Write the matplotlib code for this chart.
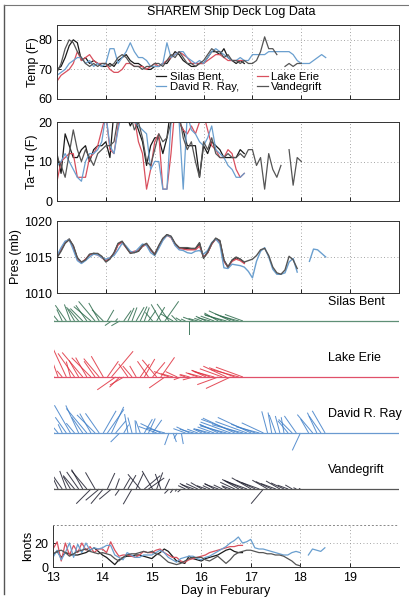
import numpy as np
import matplotlib
matplotlib.use("Agg")
import matplotlib.pyplot as plt
from matplotlib.lines import Line2D

plt.rcParams['font.family'] = ['Liberation Sans', 'DejaVu Sans']
plt.rcParams['font.size'] = 9

nan = np.nan

ships = ["Silas Bent", "Lake Erie", "David R. Ray", "Vandegrift"]

# deck log readings every 2 hours starting 13 Feb 00Z
START_DAY = 13.0
STEP_DAYS = 2.0 / 24.0

# air temperature (F)
temp_sb = [70, 71, 74, 78, 80, 79, 73, 74, 72, 73, 72, 71,
           71, 72, 71, 73, 74, 75, 73, 72, 72, 71, 70, 70,
           71, 71, 72, 72, 74, 76, 75, 73, 72, 71, 71, 72,
           72, 74, 76, 76, 75, 77, 74, 73, 72, 73, 72]
temp_le = [66, 68, 69, 70, 72, 76, 73, 74, 75, 73, 72, 72,
           72, 70, 69, 69, 70, 72, 72, 71, 71, 71, 70, 71,
           72, 71, 72, 73, 74, 75, 76, 75, 74, 72, 72, 72,
           72, 73, 74, 75, 75, 74, 73, 73, 73, 73, 73]
temp_dr = [68, 69, 70, 72, 73, 74, 74, 72, 73, 71, 72, 71,
           72, 77, 77, 72, 74, 76, 79, 76, 74, 74, 73, 71,
           71, 71, 72, 79, 74, 75, 76, 76, 74, 73, 72, 73,
           72, 74, 76, 77, 76, 75, 74, 73, 73, 74, 73, 73,
           75, 75, 75, 75, 76, 76, 76, 76, 76, 76, 75, 73,
           72, 72, 72, 73, 74, 75, 74]
temp_vg = [69, 72, 77, 80, 79, 76, 74, 72, 71, 72, 71, 72,
           72, 71, 72, 74, 75, 74, 72, 71, 71, 70, 71, 71,
           72, 72, 71, 73, 75, 74, 76, 74, 72, 72, 71, 72,
           73, 75, 77, 76, 76, 74, 75, 73, 73, 72, 73, 72,
           72, 73, 76, 81, 77, 77, 75, nan, 71, 72, 71, 72, 72]

# air temperature minus dew point (F)
tatd_sb = [12, 7, 17, 14, 11, 11, 13, 14, 10, 13, 14, 14,
           15, 11, 23, 25, 24, 22, 19, 21, 18, 15, 9, 14,
           16, 16, 12, 16, 24, 22, 20, 18, 14, 14, 14, 6,
           14, 12, 15, 14, 13, 11, 11, 11, 11, 13, 12]
tatd_le = [5, 10, 11, 12, 12, 6, 6, 6, 11, 12, 14, 18,
           22, 13, 12, 19, 24, 22, 20, 21, 15, 12, 3, 8,
           15, 17, 3, 3, 12, 24, 20, 18, 17, 19, 17, 20,
           22, 18, 14, 13, 11, 11, 13, 12, 8, 6, 7]
tatd_dr = [9, 10, 12, 10, 8, 6, 5, 10, 12, 12, 13, 15,
           22, 14, 12, 18, 23, 22, 21, 20, 19, 18, 17, 8,
           10, 10, 3, 3, 20, 22, 20, 3, 22, 18, 17, 15,
           14, 16, 19, 13, 12, 11, 9, 8, 6, 6, 7]
tatd_vg = [11, 9, 6, 12, 18, 13, 10, 13, 11, 9, 12, 13,
           14, 14, 15, 21, 22, 20, 22, 18, 20, 16, 10, 9,
           13, 17, 15, 16, 20, 25, 22, 16, 13, 15, 10, 6,
           15, 13, 16, 12, 11, 11, 12, 11, 11, 12, 11, 13,
           13, 9, 11, 3, 12, 8, 6, 9, nan, 13, 4, 11, 10]

# sea level pressure (mb)
pres_sb = [1015.0, 1016.0, 1017.0, 1017.5, 1016.5, 1014.8, 1014.2, 1014.6, 1015.3, 1015.5, 1015.4, 1015.0,
           1014.4, 1014.8, 1015.5, 1016.8, 1017.1, 1016.4, 1015.6, 1015.7, 1015.8, 1016.5, 1016.8, 1016.0,
           1015.4, 1016.5, 1017.5, 1018.1, 1017.8, 1016.8, 1016.3, 1016.2, 1016.2, 1016.1, 1016.1, 1016.9,
           1014.9, 1015.6, 1016.8, 1017.6, 1017.2, 1014.5, 1013.6, 1014.5, 1014.9, 1014.7, 1014.2]
pres_le = [1015.1, 1016.1, 1017.1, 1017.4, 1016.3, 1014.7, 1014.2, 1014.7, 1015.3, 1015.4, 1015.3, 1014.9,
           1014.5, 1014.9, 1015.4, 1016.7, 1017.0, 1016.3, 1015.6, 1015.8, 1015.9, 1016.5, 1016.7, 1015.9,
           1015.4, 1016.4, 1017.4, 1018.0, 1017.7, 1016.7, 1016.2, 1016.1, 1016.0, 1016.0, 1016.0, 1016.5,
           1015.0, 1015.6, 1016.8, 1017.5, 1017.0, 1014.4, 1013.6, 1014.4, 1014.7, 1014.5, 1014.1]
pres_dr = [1015.2, 1016.3, 1017.2, 1017.4, 1016.0, 1014.5, 1014.1, 1014.5, 1015.0, 1015.4, 1015.3, 1014.9,
           1014.7, 1014.9, 1015.2, 1016.0, 1016.9, 1016.5, 1015.8, 1015.6, 1016.2, 1016.8, 1016.6, 1015.6,
           1015.2, 1016.2, 1017.3, 1018.0, 1017.8, 1016.6, 1016.0, 1015.9, 1015.6, 1015.5, 1015.8, 1015.9,
           1015.4, 1015.9, 1017.0, 1017.5, 1016.8, 1013.5, 1013.4, 1014.0, 1013.9, 1013.8, 1013.6, 1013.0,
           1012.1, 1014.4, 1015.8, 1016.3, 1015.0, 1013.3, 1012.6, 1012.6, 1012.8, 1014.3, 1014.8, 1012.9,
           nan, nan, 1014.4, 1016.1, 1016.0, 1015.5, 1015.0]
pres_vg = [1014.9, 1015.8, 1016.9, 1017.4, 1016.6, 1014.9, 1014.3, 1014.6, 1015.4, 1015.5, 1015.5, 1015.1,
           1014.3, 1014.7, 1015.6, 1016.9, 1017.2, 1016.3, 1015.5, 1015.6, 1015.8, 1016.6, 1016.9, 1016.1,
           1015.3, 1016.6, 1017.6, 1018.1, 1017.9, 1016.9, 1016.3, 1016.3, 1016.3, 1016.2, 1016.2, 1017.0,
           1014.8, 1015.7, 1016.9, 1017.6, 1017.3, 1014.6, 1013.6, 1014.6, 1015.0, 1014.7, 1014.3, 1014.5,
           1014.7, 1015.2, 1016.0, 1016.2, 1015.2, 1013.6, 1012.8, 1012.6, 1013.2, 1015.1, 1014.6, 1013.4]

# wind speed (knots)
spd_sb = [10, 13, 8, 12, 11, 10, 10, 11, 12, 14, 16, 13,
          10, 8, 5, 2, 6, 8, 9, 9, 10, 10, 9, 8,
          7, 10, 12, 15, 13, 9, 5, 4, 3, 9, 7, 6,
          5, 7, 8, 9, 10, 12, 14, 15, 13, 12, 12]
spd_le = [15, 21, 5, 20, 10, 18, 12, 20, 14, 17, 12, 15,
          15, 12, 21, 14, 9, 10, 10, 9, 8, 10, 13, 12,
          12, 14, 15, 12, 10, 8, 8, 5, 4, 6, 7, 8,
          9, 10, 12, 13, 14, 15, 16, 17, 17, 18, 18]
spd_dr = [8, 14, 6, 12, 20, 8, 19, 12, 20, 14, 16, 15,
          16, 18, 18, 10, 8, 6, 12, 10, 8, 8, 10, 10,
          10, 12, 14, 12, 8, 6, 4, 7, 8, 9, 9, 7,
          6, 8, 9, 11, 13, 15, 17, 20, 22, 25, 20, 21,
          23, 16, 15, 15, 14, 13, 12, 11, 10, 10, 12, 13,
          12, nan, 10, 15, 14, 13, 16]
spd_vg = [11, 13, 14, 12, 9, 11, 13, 14, 15, 13, 12, 11,
          12, 11, 10, 7, 5, 8, 10, 11, 11, 12, 13, 12,
          13, 11, 10, 7, 4, 3, 2, 3, 5, 7, 8, 8,
          8, 6, 5, 7, 9, 6, 3, 6, 10, 12, 13, 14,
          14, 13, 12, 12, 11, 11, 10, 10, 9, 7, 5, 2, 1]

# direction the wind blows toward (degrees clockwise from north)
dir_sb = [330, 320, 335, 325, 340, 330, 320, 315, 325, 310, 320, 330,
          315, 30, 235, 40, 240, 35, 25, 20, 30, 25, 20, 35,
          320, 30, 330, 35, 325, 300, 315, 300, 295, 180, 290, 285,
          290, 295, 285, 290, 300, 290, 285, 295, 290, 285, 290]
dir_le = [330, 340, 320, 335, 345, 325, 330, 320, 330, 315, 325, 320,
          330, 35, 40, 235, 225, 240, 325, 320, 330, 35, 30, 325,
          40, 320, 35, 235, 290, 285, 295, 250, 290, 285, 255, 290,
          285, 295, 290, 285, 250, 290, 295, 245, 290, 285, 290]
dir_dr = [330, 320, 335, 325, 330, 320, 335, 325, 320, 330, 315, 325,
          30, 35, 25, 40, 225, 30, 350, 345, 355, 340, 30, 25,
          35, 290, 295, 285, 200, 160, 210, 170, 290, 295, 285, 290,
          295, 290, 285, 290, 295, 290, 285, 290, 295, 290, 285, 290,
          295, 290, 285, 295, 345, 350, 340, 345, 350, 320, 315, 325,
          205, nan, 330, 320, 335, 325, 330]
dir_vg = [330, 335, 325, 340, 330, 320, 325, 330, 320, 225, 330, 230,
          220, 25, 230, 20, 215, 30, 30, 210, 25, 320, 50, 55,
          330, 20, 340, 25, 225, 215, 220, 230, 295, 300, 290, 295,
          300, 290, 295, 300, 290, 295, 300, 290, 295, 300, 295, 290,
          300, 295, 290, 220, 300, 295, 290, 300, 295, 290, 300, 295, 290]

line_colors = ["#1a1a1a", "#d9505e", "#6a9fcf", "#555555"]
stick_colors = ["#2d6b4c", "#e0303e", "#3f7fc8", "#1e1e2e"]
base_colors = ["#5f8f76", "#e0506a", "#6a9ad0", "#555555"]

temps = [temp_sb, temp_le, temp_dr, temp_vg]
tatds = [tatd_sb, tatd_le, tatd_dr, tatd_vg]
press = [pres_sb, pres_le, pres_dr, pres_vg]
speeds = [spd_sb, spd_le, spd_dr, spd_vg]
dirs = [dir_sb, dir_le, dir_dr, dir_vg]


def times(vals):
    return START_DAY + STEP_DAYS * np.arange(len(vals))


W, H = 409, 597
fig = plt.figure(figsize=(W / 100, H / 100), dpi=100)


def px_axes(left, top, right, bottom):
    return fig.add_axes([left / W, 1 - bottom / H, (right - left) / W, (bottom - top) / H])


def style(ax, yticks, ylim):
    ax.set_xlim(13, 20)
    ax.set_ylim(*ylim)
    ax.set_yticks(yticks)
    ax.set_xticks(range(13, 21))
    ax.grid(True, linestyle=(0, (1, 3)), color="#888888", linewidth=0.6)
    ax.tick_params(direction="in", length=3, width=0.6, labelsize=9)
    for s in ax.spines.values():
        s.set_linewidth(0.7)
        s.set_color("#333333")


ax_t = px_axes(57, 25, 399, 99)
ax_d = px_axes(57, 122, 399, 201)
ax_p = px_axes(57, 221, 399, 293)
ax_w = px_axes(54, 295, 399, 517)
ax_k = px_axes(53, 525, 399, 567)

handles = []
for i in range(4):
    h, = ax_t.plot(times(temps[i]), temps[i], color=line_colors[i], lw=0.9)
    handles.append(h)
    ax_d.plot(times(tatds[i]), tatds[i], color=line_colors[i], lw=0.9)
    ax_p.plot(times(press[i]), press[i], color=line_colors[i], lw=1.0)
    ax_k.plot(times(speeds[i]), speeds[i], color=line_colors[i], lw=0.9)

style(ax_t, [60, 70, 80], (60, 85))
style(ax_d, [0, 10, 20], (0, 20))
style(ax_p, [1010, 1015, 1020], (1010, 1020))
style(ax_k, [0, 20], (0, 35))
for ax in (ax_t, ax_d, ax_p):
    ax.set_xticklabels([])
ax_k.set_xticks(range(13, 20))
ax_k.spines["right"].set_visible(False)
ax_k.spines["top"].set_linestyle((0, (1, 3)))
ax_k.spines["top"].set_color("#888888")

ax_t.set_ylabel("Temp (F)", fontsize=9)
ax_d.set_ylabel("Ta\u2212Td (F)", fontsize=9)
ax_p.set_ylabel("Pres (mb)", fontsize=9)
ax_k.set_ylabel("knots", fontsize=9)
ax_k.set_xlabel("Day in Feburary", fontsize=9, labelpad=1)
ax_t.yaxis.set_label_coords(-0.052, 0.5)
ax_d.yaxis.set_label_coords(-0.057, 0.5)
ax_p.yaxis.set_label_coords(-0.102, 0.5)
ax_k.yaxis.set_label_coords(-0.055, 0.5)

ax_t.legend([handles[0], handles[2], handles[1], handles[3]],
            ["Silas Bent,", "David R. Ray,", "Lake Erie", "Vandegrift"],
            ncol=2, loc="upper left", bbox_to_anchor=(0.29, 0.37),
            frameon=False, handlelength=0.9, handletextpad=0.3,
            columnspacing=1.6, labelspacing=0.0, borderpad=0,
            borderaxespad=0, fontsize=8.2)

# wind stick diagrams, one baseline per ship
offsets = [0, -50, -100, -150]
ax_w.set_xlim(13, 20)
ax_w.set_ylim(23.2 - 222 / 1.12, 23.2)
ax_w.axis("off")
for i in range(4):
    spd = np.asarray(speeds[i], float)
    ang = np.deg2rad(np.asarray(dirs[i], float))
    t = times(spd)
    ok = np.isfinite(spd) & np.isfinite(ang)
    u = spd * np.sin(ang)
    v = spd * np.cos(ang)
    ax_w.axhline(offsets[i], color=base_colors[i], lw=0.9)
    ax_w.quiver(t[ok], np.full(ok.sum(), offsets[i]), u[ok], v[ok],
                angles="uv", scale_units="y", scale=0.7, units="dots",
                width=1.0, headwidth=0, headlength=0, headaxislength=0,
                pivot="tail", color=stick_colors[i], alpha=0.85)
    ax_w.text(18.55, offsets[i] + 17, ships[i], fontsize=9, va="center", ha="left")

fig.text(231 / W, 1 - 12 / H, "SHAREM Ship Deck Log Data", ha="center", va="center", fontsize=9)

fig.add_artist(Line2D([4 / W, 4 / W], [0.005, 1 - 5 / H], transform=fig.transFigure,
                      color="#555555", lw=1.0))
fig.add_artist(Line2D([4 / W, 1], [1 - 5 / H, 1 - 5 / H], transform=fig.transFigure,
                      color="#777777", lw=0.8))

fig.savefig("out.png", dpi=100)
